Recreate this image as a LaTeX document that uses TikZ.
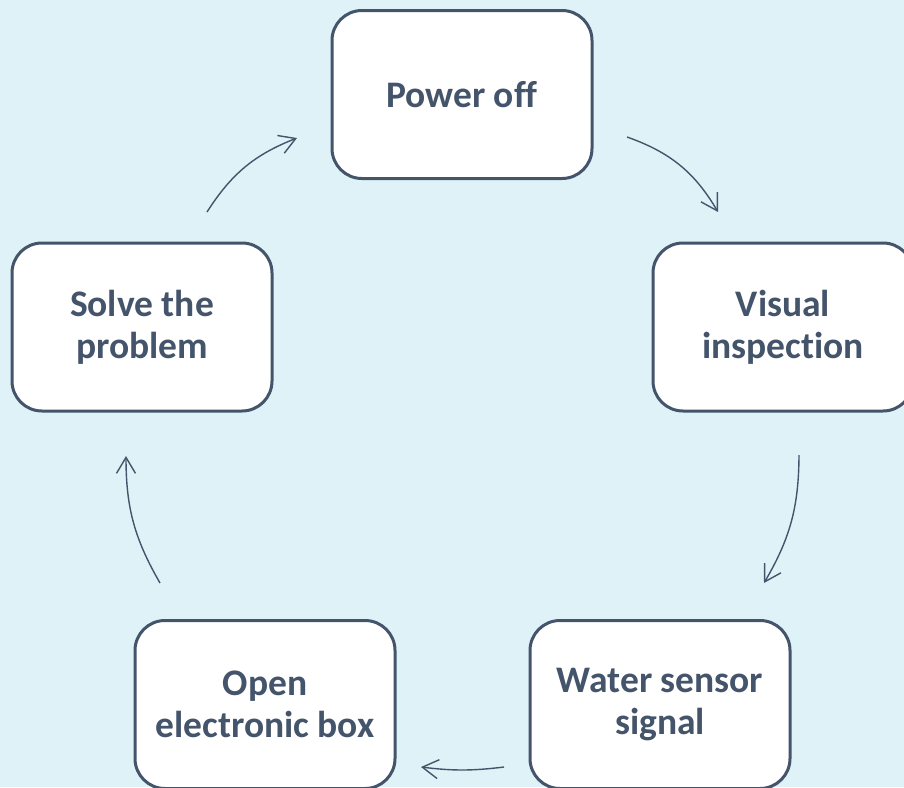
\documentclass[tikz,border=0pt]{standalone}
\usepackage{fontspec}
\setmainfont[Ligatures={NoCommon,NoRare}]{Carlito}
\usetikzlibrary{arrows.meta}
\definecolor{bgblue}{HTML}{DFF2F7}
\definecolor{slate}{HTML}{44546A}
\tikzset{
  stepbox/.style={draw=slate, line width=3pt, fill=white, rounded corners=30pt,
    minimum width=260pt, minimum height=168pt, align=center,
    text=slate, font=\fontsize{37.5}{42}\selectfont\bfseries},
  flow/.style={draw=slate, line width=1.4pt,
    -{Straight Barb[length=16pt,width=19pt]}}
}
\begin{document}
\begin{tikzpicture}[x=1pt,y=-1pt]
  \useasboundingbox (0,0) rectangle (904,787);
  \clip (0,0) rectangle (904,787);
  \fill[bgblue] (0,0) rectangle (904,787);

  % the five steps of the cycle
  \node[stepbox] (power)  at (462,94.5)  {Power off};
  \node[stepbox] (visual) at (783,327)   {Visual\\inspection};
  \node[stepbox] (water)  at (660,704.5) {Water sensor\\signal};
  \node[stepbox] (open)   at (265,704.5) {Open\\electronic box};
  \node[stepbox] (solve)  at (142,327)   {Solve the\\problem};

  % arrow end points between neighbouring steps
  \coordinate (pv1) at (627,137);
  \coordinate (pv2) at (718,212);
  \coordinate (vw1) at (799,455);
  \coordinate (vw2) at (764,583);
  \coordinate (wo1) at (504,767);
  \coordinate (wo2) at (421,767);
  \coordinate (os1) at (160,583);
  \coordinate (os2) at (126,456);
  \coordinate (sp1) at (207,212);
  \coordinate (sp2) at (297,138);

  \draw[flow] (pv1) to[bend left=20] (pv2);
  \draw[flow] (vw1) to[bend left=15] (vw2);
  \draw[flow] (wo1) to[bend left=7]  (wo2);
  \draw[flow] (os1) to[bend left=15] (os2);
  \draw[flow] (sp1) to[bend left=18] (sp2);
\end{tikzpicture}
\end{document}
